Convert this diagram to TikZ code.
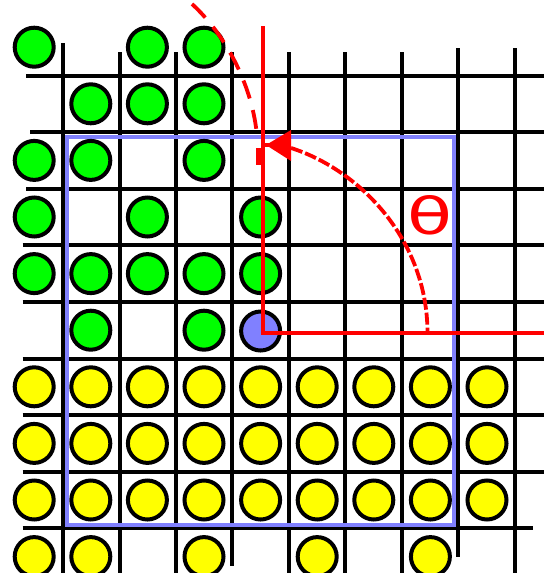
\documentclass[tikz,border=0pt]{standalone}
\usepackage{graphicx}
\usepackage{fontspec}
\newfontfamily\dejavu{DejaVu Sans}
\definecolor{lav}{RGB}{128,128,255}
\definecolor{pgreen}{RGB}{0,255,0}
\definecolor{pyellow}{RGB}{255,255,0}
\definecolor{pred}{RGB}{255,0,0}
\begin{document}
\begin{tikzpicture}[x=1pt,y=-1pt,
  gridline/.style={line width=4pt, black},
  token/.style={circle, draw=black, line width=4pt, minimum size=39pt, inner sep=0pt},
  gtok/.style={token, fill=pgreen},
  ytok/.style={token, fill=pyellow},
  btok/.style={token, fill=lav},
  frame/.style={line width=4pt, lav},
  axisline/.style={line width=4pt, pred},
  trackA/.style={line width=3.8pt, pred, dash pattern=on 19pt off 12pt},
  trackB/.style={line width=3.8pt, pred, dash pattern=on 12pt off 3pt},
  label/.style={text=pred, inner sep=0pt, font=\dejavu}]
\fill[white] (0,0) rectangle (544,573);
\useasboundingbox (0,0) rectangle (544,573);
% grid
\foreach \x/\ya/\yb in {62.5/43/573, 119.5/52/573, 176/52/573, 232.3/52/566, 289/52/573, 345.3/52/573, 402/52/573, 458.3/48/557, 515/48/573}
  \draw[gridline] (\x,\ya) -- (\x,\yb);
\foreach \y/\xa/\xb in {75.5/26/544, 132.1/30/544, 188.7/26/544, 245.3/22.7/544, 301.9/22.7/544, 358.5/22.7/544, 415.1/22.7/544, 471.7/22.7/544, 528.3/22.7/533}
  \draw[gridline] (\xa,\y) -- (\xb,\y);
% frame
\draw[frame] (67,137) rectangle (454,524.7);
% green tokens
\foreach \r/\cols in {0/{0,2,3},1/{1,2,3},2/{0,1,3},3/{0,2,4},4/{0,1,2,3,4},5/{1,3}}
  \foreach \c in \cols
    \node[gtok] (g\r\c) at ({34.2+56.6*\c},{47.2+56.6*\r}) {};
% yellow tokens
\foreach \r in {6,7,8}
  \foreach \c in {0,...,8}
    \node[ytok] (y\r\c) at ({34.2+56.6*\c},{47.2+56.6*\r}) {};
\foreach \c in {0,1,3,5,7}
  \node[ytok] (y9\c) at ({34.2+56.6*\c},{47.2+56.6*9}) {};
% pivot
\node[btok] (pivot) at (260.6,331) {};
% axes
\coordinate (O) at (263,332.7);
\coordinate (Ytop) at (263,26);
\coordinate (Xend) at (544,332.7);
\draw[axisline] (Ytop) -- (O) -- (Xend);
% rotation tracks
\coordinate (A0) at (192,4);
\coordinate (A1) at (257,136);
\draw[trackA] (A0) .. controls (229,38) and (253,90) .. (A1);
\fill[pred] (256,148) rectangle (263,165);
\coordinate (B0) at (291,148);
\coordinate (B1) at (427.5,333);
\draw[trackB] (B0) .. controls (360,170) and (427.5,240) .. (B1);
\fill[pred] (266,145) -- (291,130) -- (291,161) -- cycle;
\draw[line width=4pt, pred] (263,145) -- (270,145);
% angle label
\node[label] (theta) at (429.5,215) {\resizebox{45pt}{39pt}{θ}};
\end{tikzpicture}
\end{document}
